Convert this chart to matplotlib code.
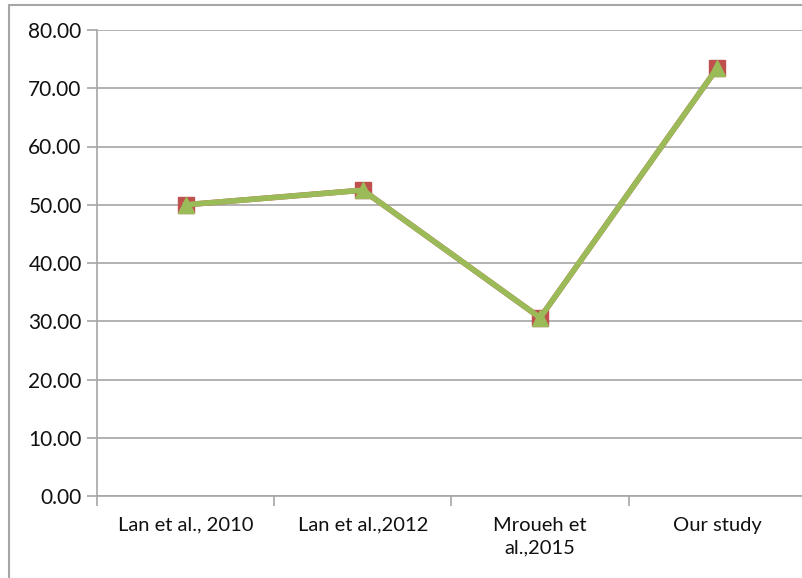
import matplotlib.pyplot as plt
from matplotlib.patches import Rectangle
from matplotlib.ticker import FixedLocator

# data
categories = ["Lan et al., 2010", "Lan et al.,2012", "Mroueh et\nal.,2015", "Our study"]
series_red = [50.0, 52.5, 30.6, 73.5]
series_green = [50.0, 52.5, 30.6, 73.5]
y_ticks = [0, 10, 20, 30, 40, 50, 60, 70, 80]

plt.rcParams['font.family'] = ['Lato', 'DejaVu Sans']

fig = plt.figure(figsize=(8.02, 5.78), dpi=100)
W, H = 802, 578

# outer chart border
fig.patches.append(Rectangle((9 / W, -0.1), 1.2, (578 - 5) / H + 0.1,
                             transform=fig.transFigure, fill=False,
                             edgecolor="#A6A6A6", linewidth=1.5))

ax = fig.add_axes([97 / W, (H - 496) / H, (806 - 97) / W, (496 - 30) / H])
x = list(range(len(categories)))

ax.plot(x, series_red, color="#C0504D", linewidth=4, marker="s",
        markersize=12, markerfacecolor="#C0504D", markeredgecolor="#C0504D", zorder=3)
ax.plot(x, series_green, color="#9BBB59", linewidth=4, marker="^",
        markersize=12, markerfacecolor="#9BBB59", markeredgecolor="#9BBB59", zorder=4)

ax.set_xlim(-0.5, len(categories) - 0.5)
ax.set_ylim(0, 80)
ax.set_yticks(y_ticks)
ax.set_yticklabels([f"{v:.2f}" for v in y_ticks], fontsize=15, color="#111111")
ax.grid(axis="y", color="#A6A6A6", linewidth=1.2)
ax.set_axisbelow(True)

ax.set_xticks(x)
ax.set_xticklabels(categories, fontsize=14.5, linespacing=1.4, color="#111111")
ax.xaxis.set_minor_locator(FixedLocator([i - 0.5 for i in range(len(categories) + 1)]))
ax.tick_params(axis="x", which="major", length=0, pad=15)
ax.tick_params(axis="x", which="minor", length=7, color="#A6A6A6", width=1.2)
ax.tick_params(axis="y", length=7, color="#A6A6A6", width=1.2, pad=4)

for side in ["top", "right"]:
    ax.spines[side].set_visible(False)
for side in ["left", "bottom"]:
    ax.spines[side].set_color("#A6A6A6")
    ax.spines[side].set_linewidth(1.2)

fig.savefig("out.png", dpi=100)
